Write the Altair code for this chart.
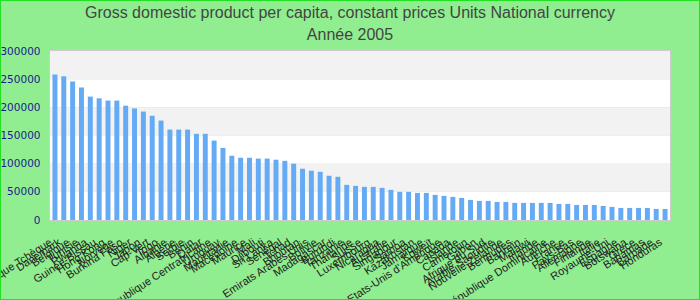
import altair as alt
import pandas as pd

title_lines = ["Gross domestic product per capita, constant prices Units National currency", "Année 2005"]

countries = [
    "République Tchèque", "Danemark", "Belgique", "Tunisie", "Rwanda",
    "Guinée-Bissau", "Hong Kong", "Norvège", "Burkina Faso", "Niger",
    "Japon", "Cap-Vert", "Togo", "Albanie", "Algérie",
    "Serbie", "Bénin", "Qatar", "République Centrafricaine", "Uruguay",
    "Mauritanie", "Macédoine", "Maurice", "Mali", "Djibouti",
    "Sri Lanka", "Sénégal", "Tchad", "Bhoutan", "Emirats Arabes Unis",
    "Bolivie", "Madagascar", "Burundi", "Tanzanie", "Thaïlande",
    "Suisse", "Luxembourg", "Nicaragua", "Australie", "Singapour",
    "Samoa", "Kazakhstan", "Jamaïque", "Koweït", "Etats-Unis d'Amérique",
    "Canada", "Islande", "Cameroun", "Gabon", "Afrique du Sud",
    "Arabie Saoudite", "Nouvelle-Zélande", "Bermudes", "Bahreïn", "Malawi",
    "Irlande", "République Dominicaine", "Autriche", "France", "Pays-Bas",
    "Allemagne", "Finlande", "Italie", "Royaume-Uni", "Espagne",
    "Botswana", "Grèce", "Bahamas", "Barbade", "Honduras",
]

values = [
    258500, 255000, 246000, 235000, 219000, 216000, 212000, 212000, 203000, 198000,
    192500, 185000, 176500, 160500, 160500, 160500, 153000, 153000, 141000, 128000,
    114000, 110500, 110500, 109000, 109000, 107000, 105000, 100000, 91000, 87500,
    85500, 78500, 76700, 62400, 60600, 58800, 58800, 57000, 53500, 50000,
    50000, 48100, 48100, 44600, 42800, 41000, 39200, 35700, 33900, 33900,
    32100, 32100, 30300, 30300, 30300, 30300, 30300, 28500, 28500, 26700,
    26700, 26700, 25000, 23200, 21400, 21400, 21400, 21400, 19600, 19600,
]

band_lo = [250000, 200000, 150000, 100000, 50000, 0]
band_hi = [300000, 250000, 200000, 150000, 100000, 50000]
band_fill = ["#f2f2f2", "#ffffff", "#f2f2f2", "#ffffff", "#f2f2f2", "#ffffff"]

y_ticks = [0, 50000, 100000, 150000, 200000, 250000, 300000]

df = pd.DataFrame({"pays": countries, "valeur": values})
bands = pd.DataFrame({"lo": band_lo, "hi": band_hi, "fill": band_fill})

yscale = alt.Scale(domain=[0, 300000], nice=False)

def y_axis():
    return alt.Axis(
        title=None,
        values=y_ticks,
        format="d",
        grid=False,
        ticks=False,
        domain=False,
        labelFontSize=10.5,
        labelFont="DejaVu Sans",
        labelColor="#1c1c8c",
        labelPadding=10,
        labelFlush=False,
    )

band_layer = alt.Chart(bands).mark_rect().encode(
    x=alt.value(0),
    x2=alt.value(620),
    y=alt.Y("lo:Q", scale=yscale, axis=y_axis(), title=None),
    y2="hi:Q",
    color=alt.Color("fill:N", scale=None),
)

bars = alt.Chart(df).mark_bar(color="#64aaf4").encode(
    x=alt.X(
        "pays:N",
        sort=None,
        scale=alt.Scale(paddingInner=0.44, paddingOuter=0.28),
        axis=alt.Axis(
            title=None,
            labelAngle=-33,
            labelAlign="right",
            labelBaseline="top",
            labelOverlap=False,
            labelFontSize=11,
            labelFont="Liberation Sans",
            labelColor="#222222",
            labelPadding=16,
            labelOffset=-7,
            ticks=False,
            domain=False,
            labelLimit=0,
        ),
    ),
    y=alt.Y("valeur:Q", scale=yscale, axis=y_axis(), title=None),
)

title_style = dict(font="Liberation Sans", fontSize=16, color="#444444", baseline="middle", align="center")

title1 = alt.Chart(pd.DataFrame({"t": [title_lines[0]]})).mark_text(**title_style).encode(
    text="t:N", x=alt.value(300), y=alt.value(-38)
)
title2 = alt.Chart(pd.DataFrame({"t": [title_lines[1]]})).mark_text(**title_style).encode(
    text="t:N", x=alt.value(300), y=alt.value(-16)
)

frame = alt.Chart(bands).mark_rect(fill=None, stroke="#22e022", strokeWidth=2).encode(
    x=alt.value(-50), x2=alt.value(650), y=alt.value(-51), y2=alt.value(249)
)

chart = (
    alt.layer(band_layer, bars, title1, title2, frame)
    .properties(
        width=620,
        height=169,
        autosize=alt.AutoSizeParams(type="none"),
        padding={"left": 50, "top": 51, "right": 30, "bottom": 80},
        background="#90ee90",
    )
    .configure_view(stroke="#cccccc", strokeWidth=2)
)

chart.save("out.html", embed_options={"renderer": "svg", "actions": False})
